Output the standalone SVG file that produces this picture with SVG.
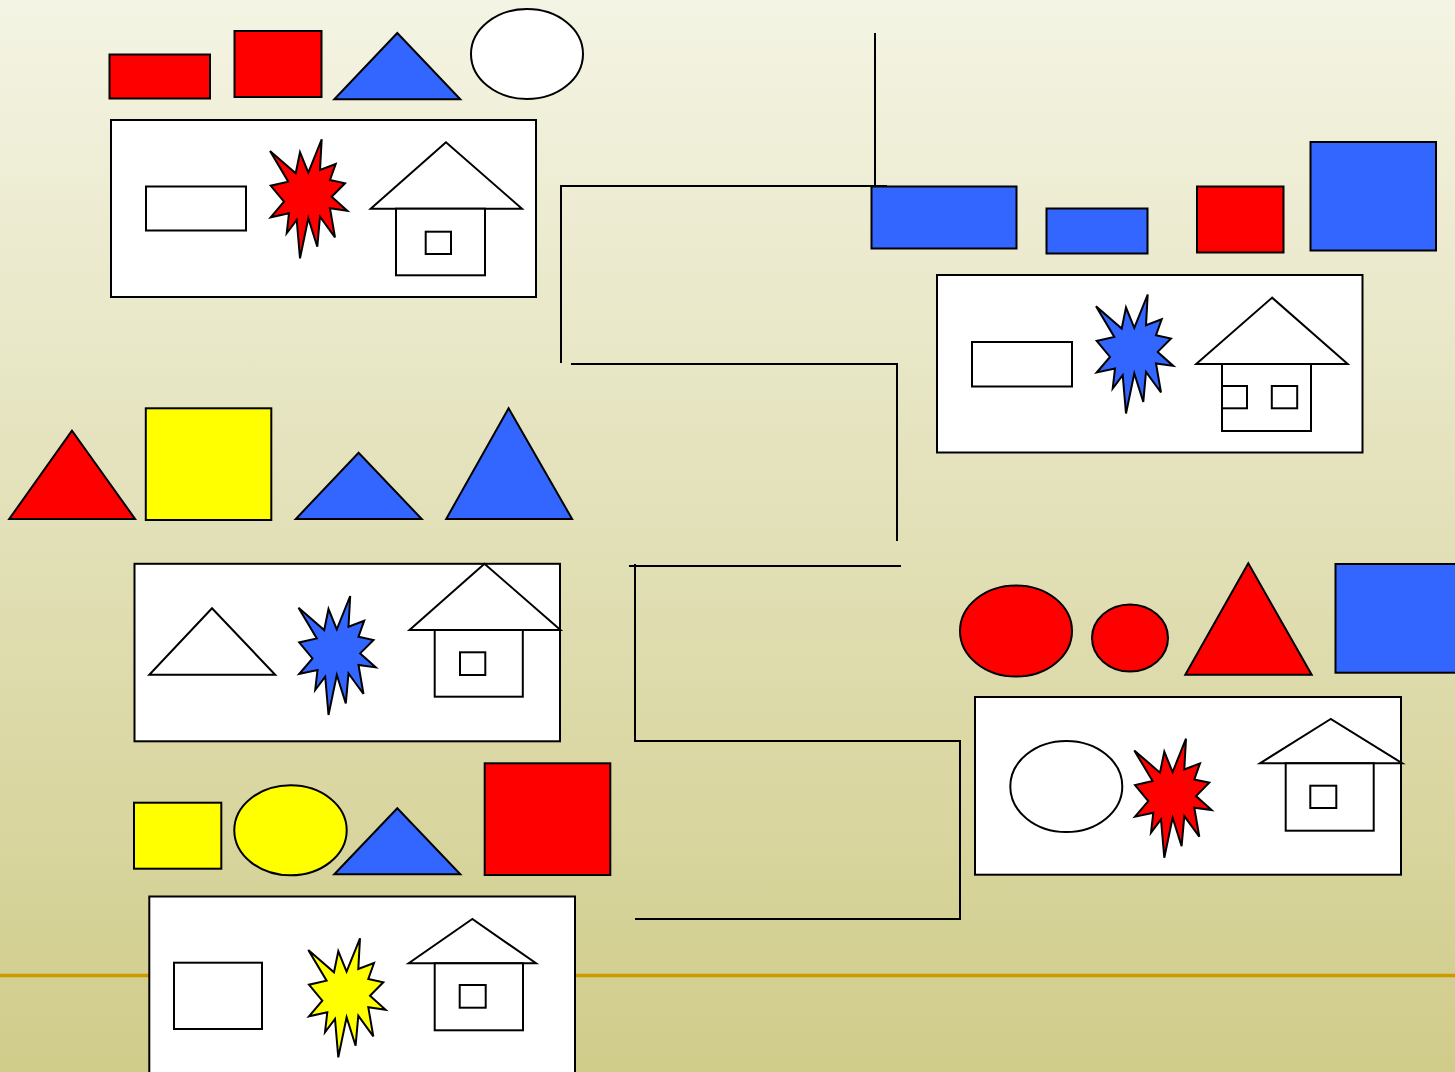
<svg xmlns="http://www.w3.org/2000/svg" xmlns:xlink="http://www.w3.org/1999/xlink" width="1455" height="1072" viewBox="0 0 1455 1072">
<defs>
<linearGradient id="bg" x1="0" y1="0" x2="0" y2="1">
<stop offset="0" stop-color="#F4F4E4"/>
<stop offset="1" stop-color="#D0CC8A"/>
</linearGradient>
<path id="star" d="M0,12.7 L25.7,35 L30,14 L38.3,34.4 L51.7,1 L50,31.7 L65.7,25.7 L60,41.7 L75,45 L61.7,58.4 L77.3,72.4 L60,70 L65,99 L50,78.4 L47.3,108.4 L38.3,80 L30,120 L26.7,81.7 L16.7,95 L19,75 L0.7,79 L14,63.4 L0.7,47.4 L18.3,43.4 Z"/>
</defs>
<style>
.s{stroke:#000;stroke-width:2;stroke-linejoin:miter}
.r{fill:#FF0000}
.b{fill:#3366FF}
.y{fill:#FFFF00}
.w{fill:#FFFFFF}
.ln{fill:none;stroke:#000;stroke-width:2}
</style>
<rect x="0" y="0" width="1455" height="1072" fill="url(#bg)"/>
<line x1="0" y1="975.5" x2="1455" y2="975.5" stroke="#CC9900" stroke-width="3.5"/>
<g id="connectors">
<path class="ln" d="M875,33 V186"/>
<path class="ln" d="M561,363 V186 H887"/>
<path class="ln" d="M571,364 H897 V541"/>
<path class="ln" d="M629,566 H901"/>
<path class="ln" d="M635,564 V741 H960 V919 H635"/>
</g>
<g id="card1">
<rect class="s r" x="109.5" y="54.5" width="100.5" height="44"/>
<rect class="s r" x="234.5" y="31" width="87" height="66"/>
<polygon class="s b" points="397.3,33 334.3,99.3 460.3,99.3"/>
<ellipse class="s w" cx="527" cy="54" rx="56" ry="45"/>
<rect class="s w" x="111" y="120" width="425" height="177"/>
<rect class="s w" x="146" y="186.5" width="100" height="44"/>
<use xlink:href="#star" class="s r" x="270" y="138.3"/>
<polygon class="s w" points="446,142.3 370.7,208.7 522,208.7"/>
<rect class="s w" x="396" y="208.7" width="89" height="66.6"/>
<rect class="s w" x="425.7" y="231.7" width="25.3" height="22.3"/>
</g>
<g id="card2">
<rect class="s b" x="871.5" y="186.5" width="145" height="62"/>
<rect class="s b" x="1046.5" y="208.5" width="101" height="45"/>
<rect class="s r" x="1197" y="186.5" width="86.5" height="66"/>
<rect class="s b" x="1310.5" y="142" width="125.5" height="108.5"/>
<rect class="s w" x="937" y="275" width="425.5" height="177.5"/>
<rect class="s w" x="972" y="342" width="100" height="44.5"/>
<use xlink:href="#star" class="s b" x="1096" y="293.5"/>
<polygon class="s w" points="1272.1,297.7 1196.2,364 1347.7,364"/>
<rect class="s w" x="1222" y="364" width="89" height="67"/>
<rect class="s w" x="1222" y="386" width="25" height="22.3"/>
<rect class="s w" x="1271.8" y="386" width="25.4" height="22.3"/>
</g>
<g id="card3">
<polygon class="s r" points="72,430.7 9.2,519 135.1,519"/>
<rect class="s y" x="145.8" y="408.3" width="125.5" height="111.7"/>
<polygon class="s b" points="358.6,452.7 295.8,519 421.7,519"/>
<polygon class="s b" points="508.6,408.3 446.2,519 572.1,519"/>
<rect class="s w" x="134.5" y="563.8" width="425.5" height="177.5"/>
<polygon class="s w" points="212,608.3 149.3,674.7 275.2,674.7"/>
<use xlink:href="#star" class="s b" x="298.5" y="595"/>
<polygon class="s w" points="484.5,563.8 409.5,630 560.5,630"/>
<rect class="s w" x="434.7" y="630" width="88.1" height="66.7"/>
<rect class="s w" x="460" y="652.3" width="25.3" height="22.7"/>
</g>
<g id="card4">
<rect class="s y" x="134" y="802.7" width="87.3" height="66"/>
<ellipse class="s y" cx="290.5" cy="830.3" rx="56.2" ry="45"/>
<polygon class="s b" points="397.3,808.3 334.3,874.3 460.3,874.3"/>
<rect class="s r" x="484.7" y="763.3" width="125.6" height="111.7"/>
<rect class="s w" x="149.3" y="896.5" width="425.7" height="200"/>
<rect class="s w" x="174" y="962.7" width="88" height="66.3"/>
<use xlink:href="#star" class="s y" x="308.3" y="937.3"/>
<polygon class="s w" points="472.3,919 408.7,963.3 536,963.3"/>
<rect class="s w" x="434.7" y="963.3" width="88.3" height="67"/>
<rect class="s w" x="459.7" y="985" width="26" height="22.7"/>
</g>
<g id="card5">
<ellipse class="s r" cx="1016" cy="631" rx="56" ry="45.5"/>
<ellipse class="s r" cx="1130" cy="638" rx="38" ry="33.5"/>
<polygon class="s r" points="1248.3,563.3 1185.3,674.7 1311.7,674.7"/>
<rect class="s b" x="1335.5" y="564" width="125.5" height="108.7"/>
<rect class="s w" x="975" y="697" width="426" height="177.7"/>
<ellipse class="s w" cx="1066.3" cy="786.5" rx="56" ry="45.5"/>
<use xlink:href="#star" class="s r" x="1134.3" y="737.7"/>
<polygon class="s w" points="1330.7,719 1260,763.3 1402.3,763.3"/>
<rect class="s w" x="1285.7" y="763.3" width="88" height="67.4"/>
<rect class="s w" x="1310.3" y="785.7" width="26" height="22.3"/>
</g>
</svg>
